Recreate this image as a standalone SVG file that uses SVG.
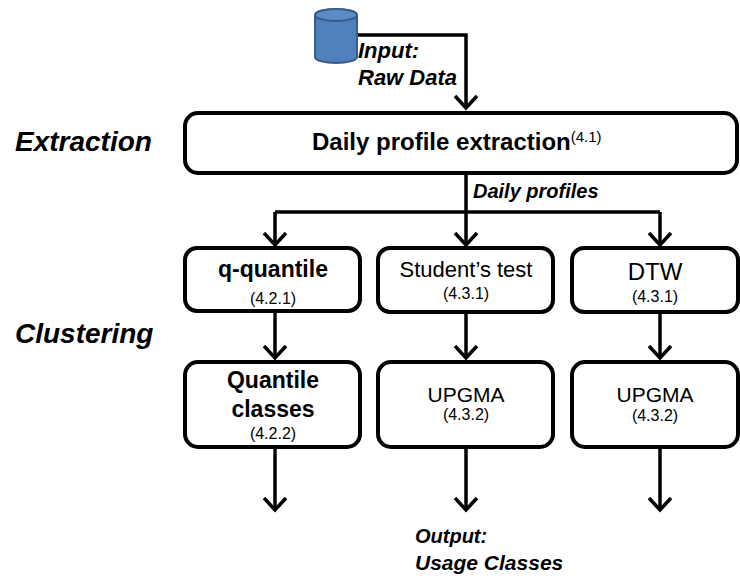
<svg xmlns="http://www.w3.org/2000/svg" width="740" height="576" viewBox="0 0 740 576">
  <style>
    .box { fill: #fff; stroke: #000; stroke-width: 4; }
    .conn { fill: none; stroke: #000; stroke-width: 3.5; stroke-linejoin: miter; }
    .arr { marker-end: url(#ah); }
    text { font-family: "Liberation Sans", Arial, sans-serif; fill: #000; }
    .lbl { font-weight: bold; font-style: italic; }
    .stage { font-size: 28px; font-weight: bold; font-style: italic; }
    .t1 { font-size: 23px; font-weight: bold; text-anchor: middle; }
    .t2 { font-size: 22px; text-anchor: middle; }
    .num { font-size: 16px; text-anchor: middle; }
  </style>
  <defs>
    <marker id="ah" markerUnits="userSpaceOnUse" markerWidth="30" markerHeight="30" refX="0" refY="0" orient="auto" overflow="visible" viewBox="-15 -15 30 30">
      <path d="M-12,-11 L0,0 L-12,11" fill="none" stroke="#000" stroke-width="3.5" stroke-linejoin="miter"/>
    </marker>
  </defs>

  <!-- stage labels -->
  <text class="stage" x="15" y="151">Extraction</text>
  <text class="stage" x="15" y="343">Clustering</text>

  <!-- connectors -->
  <g id="connectors">
    <path class="conn arr" d="M357,35 H466 V108"/>
    <path class="conn" d="M466,173 V212"/>
    <path class="conn" d="M275,212 H660"/>
    <path class="conn arr" d="M275,212 V245"/>
    <path class="conn arr" d="M466,212 V245"/>
    <path class="conn arr" d="M660,212 V245"/>
    <path class="conn arr" d="M275,311 V358"/>
    <path class="conn arr" d="M466,312 V358"/>
    <path class="conn arr" d="M660,312 V358"/>
    <path class="conn arr" d="M275,447 V510"/>
    <path class="conn arr" d="M466,447 V510"/>
    <path class="conn arr" d="M660,447 V510"/>
  </g>

  <!-- input data store -->
  <g id="input">
    <path d="M315,15 V57 A21,6 0 0 0 357,57 V15 A21,6 0 0 0 315,15 Z" fill="#4f81bd" stroke="#385d8a" stroke-width="2"/>
    <ellipse cx="336" cy="15" rx="21" ry="6" fill="#5b8cc6" stroke="#385d8a" stroke-width="2"/>
    <text class="lbl" x="358" y="58" font-size="22">Input:</text>
    <text class="lbl" x="358" y="85" font-size="22">Raw Data</text>
  </g>

  <g id="extraction">
    <rect class="box" x="185" y="113" width="552" height="60" rx="13"/>
    <text x="312" y="150" font-size="24" font-weight="bold">Daily profile extraction<tspan font-size="15" font-weight="normal" dy="-8">(4.1)</tspan></text>
  </g>

  <text class="lbl" x="473" y="198" font-size="20">Daily profiles</text>

  <g id="qquantile">
    <rect class="box" x="185" y="248" width="175" height="63" rx="12"/>
    <text class="t1" x="273" y="277">q-quantile</text>
    <text class="num" x="273" y="304">(4.2.1)</text>
  </g>

  <g id="student">
    <rect class="box" x="378" y="248" width="175" height="64" rx="12"/>
    <text class="t2" x="466" y="277">Student’s test</text>
    <text class="num" x="466" y="299">(4.3.1)</text>
  </g>

  <g id="dtw">
    <rect class="box" x="572" y="248" width="166" height="64" rx="12"/>
    <text x="655" y="280" font-size="24" text-anchor="middle">DTW</text>
    <text class="num" x="655" y="302">(4.3.1)</text>
  </g>

  <g id="quantileclasses">
    <rect class="box" x="185" y="362" width="175" height="85" rx="13"/>
    <text class="t1" x="273" y="388">Quantile</text>
    <text class="t1" x="273" y="417">classes</text>
    <text class="num" x="273" y="439">(4.2.2)</text>
  </g>

  <g id="upgma1">
    <rect class="box" x="378" y="362" width="175" height="85" rx="13"/>
    <text x="466" y="402" font-size="21" text-anchor="middle">UPGMA</text>
    <text class="num" x="466" y="420">(4.3.2)</text>
  </g>

  <g id="upgma2">
    <rect class="box" x="572" y="362" width="166" height="85" rx="13"/>
    <text x="655" y="402" font-size="21" text-anchor="middle">UPGMA</text>
    <text class="num" x="655" y="421">(4.3.2)</text>
  </g>

  <g id="output">
    <text class="lbl" x="415" y="543" font-size="20">Output:</text>
    <text class="lbl" x="415" y="570" font-size="21">Usage Classes</text>
  </g>
</svg>
